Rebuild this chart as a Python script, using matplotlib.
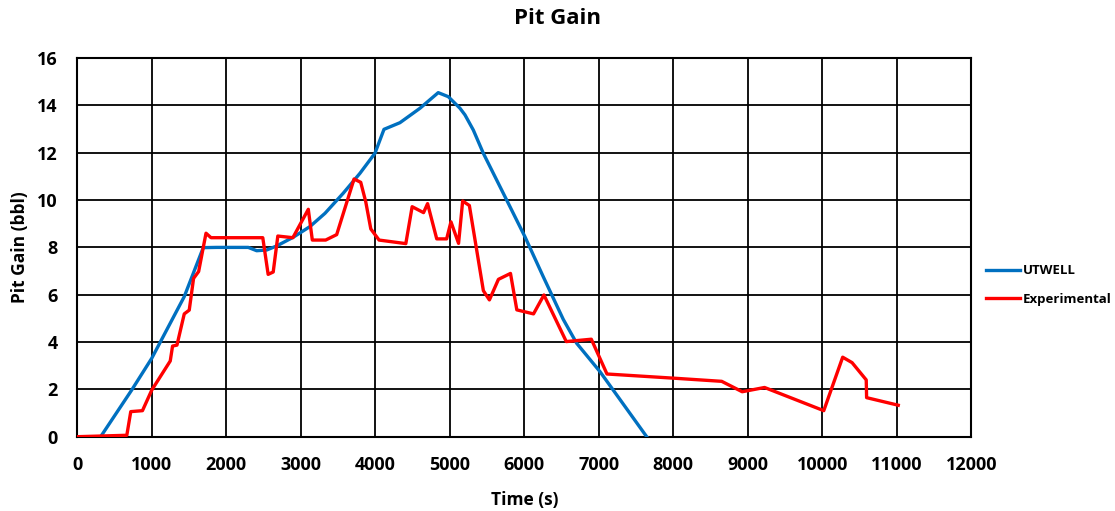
import matplotlib
matplotlib.use('Agg')
import matplotlib.pyplot as plt

plt.rcParams['font.family'] = ['Open Sans', 'DejaVu Sans']
plt.rcParams['font.weight'] = 'bold'

# UTWELL simulated pit gain
utwell_t = [314, 730, 999, 1436, 1691, 1871, 2295, 2408, 2542, 2676, 2899, 3123,
            3325, 3570, 3794, 3996, 4117, 4331, 4600, 4845, 4980, 5137, 5204,
            5316, 5450, 5764, 6009, 6255, 6523, 6703, 7016, 7643]
utwell_gain = [0, 1.97, 3.31, 5.92, 7.99, 8.0, 8.0, 7.86, 7.89, 8.06, 8.43, 8.88,
               9.44, 10.29, 11.13, 11.98, 12.99, 13.27, 13.88, 14.54, 14.37, 13.88, 13.6,
               12.96, 11.98, 10.0, 8.45, 6.76, 4.96, 3.95, 2.75, 0]

# measured pit gain
exp_t = [0, 665, 718, 875, 1000, 1248, 1279, 1338, 1436, 1503, 1561, 1629, 1728,
         1795, 2490, 2562, 2630, 2692, 2894, 3101, 3155, 3334, 3482, 3715, 3805,
         3872, 3940, 4051, 4410, 4495, 4648, 4702, 4825, 4958, 5016, 5118, 5173,
         5263, 5451, 5532, 5653, 5815, 5900, 6124, 6264, 6564, 6900, 7110, 8022,
         8650, 8925, 9225, 10020, 10274, 10400, 10590, 10595, 11020]
exp_gain = [0, 0.06, 1.06, 1.1, 1.97, 3.2, 3.83, 3.87, 5.19, 5.35, 6.69, 6.98, 8.6,
            8.41, 8.41, 6.86, 6.96, 8.48, 8.41, 9.61, 8.31, 8.31, 8.54, 10.89, 10.75,
            9.93, 8.78, 8.31, 8.16, 9.72, 9.47, 9.85, 8.36, 8.36, 9.08, 8.17, 9.96,
            9.77, 6.17, 5.78, 6.65, 6.9, 5.36, 5.19, 5.99, 4.02, 4.12, 2.65, 2.47,
            2.34, 1.9, 2.08, 1.1, 3.36, 3.13, 2.4, 1.65, 1.33]

fig = plt.figure(figsize=(11.15, 5.11), dpi=100)
ax = fig.add_axes([0.0693, 0.1454, 0.8018, 0.7409])

ax.plot(utwell_t, utwell_gain, color='#0070C0', lw=2.4, label='UTWELL', zorder=3)
ax.plot(exp_t, exp_gain, color='#FF0000', lw=2.4, label='Experimental', zorder=3)

ax.set_xlim(0, 12000)
ax.set_ylim(0, 16)
ax.set_xticks(range(0, 12001, 1000))
ax.set_yticks(range(0, 17, 2))
ax.grid(True, color='black', lw=1.3)
ax.set_axisbelow(True)
for s in ax.spines.values():
    s.set_color('black')
    s.set_linewidth(1.5)
ax.tick_params(length=0, labelsize=13)
ax.tick_params(axis='y', pad=14)
ax.tick_params(axis='x', pad=14)

ax.set_xlabel('Time (s)', fontsize=12.5, fontweight='bold', labelpad=12)
ax.set_ylabel('Pit Gain (bbl)', fontsize=12.5, fontweight='bold')
ax.yaxis.set_label_coords(-0.054, 0.5)
fig.text(0.5, 0.963, 'Pit Gain', ha='center', va='center', fontsize=16, fontweight='bold')

ax.legend(loc='center left', bbox_to_anchor=(0.884, 0.442), bbox_transform=fig.transFigure,
          frameon=False, fontsize=9.5, handlelength=2.6, handletextpad=0.2,
          labelspacing=1.2, borderpad=0, borderaxespad=0)

fig.savefig('out.png', dpi=100)
